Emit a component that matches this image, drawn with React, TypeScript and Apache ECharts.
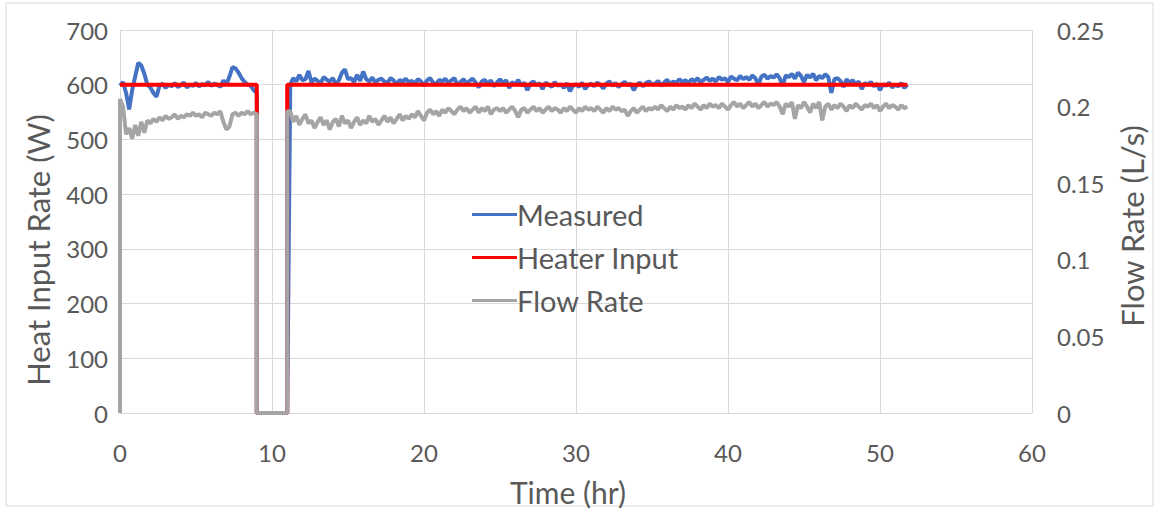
import React, { useEffect, useRef } from "react";
import * as echarts from "echarts";

const STEP = 0.2;
// Measured heat input (W), t = 0 .. 9 hr every 0.2 hr
const measuredSeg1 = [
  598, 605, 585, 555, 590, 615, 640, 635, 620, 600,
  595, 585, 578, 598, 602, 594, 600, 597, 603, 596,
  599, 604, 595, 600, 598, 603, 597, 601, 599, 605,
  598, 602, 600, 596, 608, 600, 615, 632, 630, 622,
  612, 605, 600, 598, 590, 585,
];
// Measured heat input (W), t = 11.2 .. 51.8 hr every 0.2 hr
const measuredSeg2 = [
  600, 612, 606, 618, 608, 610, 625, 604, 611, 607,
  603, 614, 609, 606, 612, 601, 608, 622, 628, 610,
  612, 605, 618, 607, 624, 610, 606, 613, 604, 609,
  611, 606, 603, 612, 608, 600, 609, 605, 611, 604,
  607, 602, 610, 606, 598, 608, 612, 604, 601, 609,
  606, 611, 603, 608, 612, 599, 605, 610, 602, 607,
  611, 604, 595, 606, 609, 601, 608, 597, 604, 610,
  603, 608, 594, 605, 600, 609, 598, 604, 590, 602,
  606, 599, 603, 592, 604, 600, 596, 605, 598, 601,
  594, 603, 588, 598, 601, 596, 604, 592, 599, 602,
  597, 604, 600, 593, 602, 606, 598, 603, 596, 601,
  605, 599, 602, 590, 600, 604, 597, 603, 606, 600,
  602, 607, 598, 604, 609, 601, 606, 603, 610, 605,
  608, 603, 610, 606, 612, 604, 609, 613, 607, 611,
  606, 614, 609, 612, 605, 615, 611, 608, 616, 610,
  614, 609, 617, 612, 600, 615, 618, 611, 616, 613,
  619, 612, 598, 617, 614, 620, 611, 622, 616, 605,
  618, 613, 620, 608, 616, 612, 619, 614, 585, 610,
  612, 607, 596, 610, 604, 608, 601, 606, 592, 603,
  600, 605, 597, 602, 590, 601, 598, 604, 595, 600,
  597, 603, 594, 600,
];
// Flow rate (L/s), t = 0 .. 9 hr every 0.2 hr
const flowSeg1 = [
  0.205, 0.2, 0.182, 0.186, 0.179, 0.188, 0.181, 0.19, 0.183, 0.191,
  0.189, 0.192, 0.19, 0.193, 0.191, 0.194, 0.192, 0.193, 0.195, 0.192,
  0.194, 0.193, 0.195, 0.194, 0.196, 0.194, 0.195, 0.193, 0.196, 0.195,
  0.194, 0.196, 0.195, 0.197, 0.19, 0.185, 0.187, 0.195, 0.196, 0.194,
  0.196, 0.195, 0.197, 0.195, 0.196, 0.195,
];
// Flow rate (L/s), t = 11.2 .. 51.8 hr every 0.2 hr
const flowSeg2 = [
  0.197, 0.19, 0.194, 0.188, 0.192, 0.195, 0.189, 0.191, 0.186, 0.19,
  0.193, 0.188, 0.191, 0.185, 0.19, 0.192, 0.187, 0.194, 0.189, 0.191,
  0.186, 0.19, 0.193, 0.188, 0.191, 0.189, 0.194, 0.19, 0.192, 0.188,
  0.191, 0.194, 0.19, 0.193, 0.189, 0.192, 0.195, 0.191, 0.194, 0.192,
  0.195, 0.193, 0.197, 0.194, 0.191, 0.196, 0.198, 0.195, 0.197, 0.194,
  0.198, 0.196, 0.199, 0.197, 0.195, 0.198, 0.2, 0.197, 0.199, 0.196,
  0.198, 0.2, 0.196, 0.199, 0.197, 0.2, 0.195, 0.198, 0.199, 0.197,
  0.199, 0.196, 0.198, 0.2, 0.197, 0.193, 0.198, 0.199, 0.196, 0.198,
  0.2, 0.197, 0.199, 0.196, 0.198, 0.2, 0.197, 0.199, 0.198, 0.196,
  0.199, 0.197, 0.2, 0.198, 0.196, 0.199, 0.197, 0.2, 0.198, 0.199,
  0.197, 0.2, 0.198, 0.196, 0.199, 0.197, 0.2, 0.198, 0.199, 0.197,
  0.198, 0.194, 0.197, 0.199, 0.196, 0.198, 0.2, 0.197, 0.199, 0.198,
  0.2, 0.198, 0.201, 0.199, 0.197, 0.2, 0.198, 0.201, 0.199, 0.2,
  0.198, 0.201, 0.199, 0.202, 0.2, 0.198, 0.201, 0.199, 0.202, 0.2,
  0.201, 0.199, 0.202, 0.2, 0.198, 0.201, 0.203, 0.2, 0.202, 0.199,
  0.201, 0.203, 0.2, 0.202, 0.199, 0.201, 0.203, 0.2, 0.202, 0.201,
  0.203, 0.2, 0.195, 0.202, 0.2, 0.203, 0.192, 0.201, 0.199, 0.203,
  0.2, 0.196, 0.202, 0.199, 0.203, 0.191, 0.2, 0.202, 0.198, 0.201,
  0.199, 0.202, 0.2, 0.197, 0.201, 0.199, 0.202, 0.2, 0.198, 0.201,
  0.2, 0.202, 0.199, 0.201, 0.197, 0.2, 0.202, 0.199, 0.201, 0.2,
  0.198, 0.201, 0.199, 0.2,
];
// Heater input (W) step profile
const heaterTimes = [0, 9, 9, 11, 11, 51.8];
const heaterValues = [600, 600, 0, 0, 600, 600];

const SEG2_START = 11.2;
const t = (x: number) => Math.round(x * 100) / 100;

const FONT = "Lato";
const TXT = "#595959";

export default function App() {
  const ref = useRef<HTMLDivElement>(null);
  useEffect(() => {
    if (!ref.current) return;
    const chart = echarts.init(ref.current, undefined, { renderer: "svg" });

    const measured: number[][] = [
      ...measuredSeg1.map((v, i) => [t(i * STEP), v]),
      [9, 0],
      [11, 0],
      ...measuredSeg2.map((v, i) => [t(SEG2_START + i * STEP), v]),
    ];
    const flow: number[][] = [
      [0, 0],
      ...flowSeg1.map((v, i) => [t(i * STEP), v]),
      [9, 0],
      [11, 0],
      [11, flowSeg2[0]],
      ...flowSeg2.map((v, i) => [t(SEG2_START + i * STEP), v]),
    ];
    const heater = heaterTimes.map((x, i) => [x, heaterValues[i]]);

    const titleStyle = { fontFamily: FONT, fontSize: 31, fill: TXT, align: "center", verticalAlign: "middle" };

    chart.setOption({
      animation: false,
      textStyle: { fontFamily: FONT },
      graphic: [
        {
          type: "rect",
          shape: { x: 6, y: 3, width: 1147, height: 503 },
          style: { fill: "none", stroke: "#d9d9d9", lineWidth: 1 },
          silent: true,
        },
        {
          type: "text",
          x: 38,
          y: 250,
          rotation: Math.PI / 2,
          style: { ...titleStyle, text: "Heat Input Rate (W)" },
          silent: true,
        },
        {
          type: "text",
          x: 1132,
          y: 226,
          rotation: Math.PI / 2,
          style: { ...titleStyle, text: "Flow Rate (L/s)" },
          silent: true,
        },
        {
          type: "text",
          x: 568,
          y: 492,
          style: { ...titleStyle, fontSize: 30, text: "Time (hr)" },
          silent: true,
        },
      ],
      grid: { left: 120, right: 125, top: 30, bottom: 106 },
      legend: {
        orient: "vertical",
        left: 467,
        top: 195,
        icon: "rect",
        itemWidth: 45,
        itemHeight: 3,
        itemGap: 14,
        textStyle: { fontFamily: FONT, fontSize: 29, color: TXT, lineHeight: 29, padding: [0, 0, 0, -5] },
        data: ["Measured", "Heater Input", "Flow Rate"],
      },
      xAxis: {
        type: "value",
        min: 0,
        max: 60,
        interval: 10,
        axisLine: { show: true, lineStyle: { color: "#d9d9d9" } },
        axisTick: { show: false },
        axisLabel: { fontFamily: FONT, fontSize: 24, color: TXT, margin: 27 },
        splitLine: { show: true, lineStyle: { color: "#d9d9d9" } },
      },
      yAxis: [
        {
          type: "value",
          min: 0,
          max: 700,
          interval: 100,
          axisLine: { show: false },
          axisTick: { show: false },
          axisLabel: { fontFamily: FONT, fontSize: 24, color: TXT, margin: 12 },
          splitLine: { show: true, lineStyle: { color: "#d9d9d9" } },
        },
        {
          type: "value",
          min: 0,
          max: 0.25,
          interval: 0.05,
          position: "right",
          axisLine: { show: false },
          axisTick: { show: false },
          axisLabel: { fontFamily: FONT, fontSize: 24, color: TXT, margin: 25 },
          splitLine: { show: false },
        },
      ],
      series: [
        {
          name: "Measured",
          type: "line",
          data: measured,
          symbol: "none",
          lineStyle: { color: "#4472C4", width: 4 },
          itemStyle: { color: "#4472C4" },
          yAxisIndex: 0,
        },
        {
          name: "Heater Input",
          type: "line",
          data: heater,
          symbol: "none",
          lineStyle: { color: "#FF0000", width: 4 },
          itemStyle: { color: "#FF0000" },
          yAxisIndex: 0,
        },
        {
          name: "Flow Rate",
          type: "line",
          data: flow,
          symbol: "none",
          lineStyle: { color: "#A5A5A5", width: 4 },
          itemStyle: { color: "#A5A5A5" },
          yAxisIndex: 1,
        },
      ],
    });
    return () => chart.dispose();
  }, []);
  return (
    <div
      ref={ref}
      style={{ position: "absolute", left: 0, top: 0, width: 1157, height: 519, background: "#fff" }}
    />
  );
}
